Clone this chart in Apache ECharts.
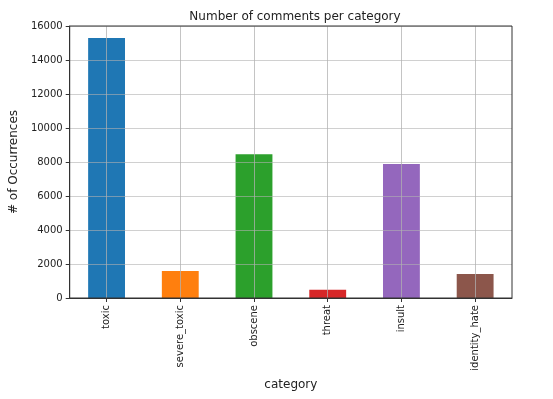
<!DOCTYPE html>
<html><head><meta charset="utf-8">
<script src="https://cdn.jsdelivr.net/npm/echarts@6/dist/echarts.min.js"></script>
<style>html,body{margin:0;padding:0;background:#fff}#c{width:553px;height:399px}</style>
</head><body><div id="c"></div>
<script>
const categories = ['toxic','severe_toxic','obscene','threat','insult','identity_hate'];
const counts = [15294, 1595, 8449, 478, 7877, 1405];
const barColors = ['#1f77b4','#ff7f0e','#2ca02c','#d62728','#9467bd','#8c564b'];
const yTicks = [0, 2000, 4000, 6000, 8000, 10000, 12000, 14000, 16000];

const chart = echarts.init(document.getElementById('c'), null, {renderer: 'canvas'});
const font = 'DejaVu Sans';
chart.setOption({
  animation: false,
  backgroundColor: '#fff',
  title: {
    text: 'Number of comments per category',
    left: 290, top: 6, textAlign: 'center',
    textStyle: {fontFamily: font, fontSize: 12, fontWeight: 'normal', color: '#222'}
  },
  grid: {left: 67, top: 26, right: 41, bottom: 101, show: true, borderColor: '#333', borderWidth: 1, backgroundColor: 'transparent', z: 5},
  xAxis: {
    type: 'category', data: categories, z: 4,
    name: 'category', nameLocation: 'middle', nameGap: 79,
    nameTextStyle: {fontFamily: font, fontSize: 12, color: '#222'},
    axisLine: {show: true, lineStyle: {color: '#333', width: 1}},
    axisTick: {show: true, alignWithLabel: true, length: 4, lineStyle: {color: '#333'}},
    axisLabel: {rotate: 90, fontFamily: font, fontSize: 10, color: '#222', margin: 7},
    splitLine: {show: true, alignWithLabel: true, lineStyle: {color: 'rgba(176,176,176,0.75)', width: 1}}
  },
  yAxis: {
    type: 'value', min: 0, max: 16000, interval: 2000, z: 4,
    name: '# of Occurrences', nameLocation: 'middle', nameGap: 47, nameRotate: 90,
    nameTextStyle: {fontFamily: font, fontSize: 12, color: '#222'},
    axisLine: {show: true, lineStyle: {color: '#333', width: 1}},
    axisTick: {show: true, length: 4, lineStyle: {color: '#333'}},
    axisLabel: {fontFamily: font, fontSize: 10, color: '#222', margin: 7,
      formatter: v => yTicks.includes(v) ? String(v) : ''},
    splitLine: {show: true, lineStyle: {color: 'rgba(176,176,176,0.6)', width: 1}}
  },
  series: [{
    type: 'bar', barWidth: '50%', z: 2,
    data: counts.map((v, i) => ({value: v, itemStyle: {color: barColors[i]}}))
  }]
});
</script></body></html>
